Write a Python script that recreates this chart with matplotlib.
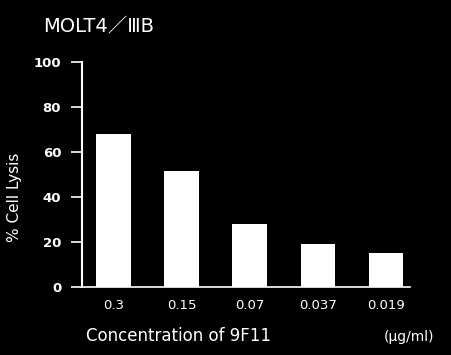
import numpy as np
import matplotlib
matplotlib.use("Agg")
from matplotlib import pyplot as plt

plt.rcParams['font.family'] = ['DejaVu Sans', 'Noto Sans CJK JP']

concentrations = ["0.3", "0.15", "0.07", "0.037", "0.019"]
lysis = [68, 51.5, 28, 19, 15]
yticks = [0, 20, 40, 60, 80, 100]

fig = plt.figure(figsize=(4.51, 3.55), dpi=100, facecolor="black")
ax = fig.add_axes([0.182, 0.192, 0.727, 0.634], facecolor="black")

x = np.arange(len(concentrations))
ax.bar(x, lysis, width=0.51, color="white")

ax.set_xlim(-0.46, 4.35)
ax.set_ylim(0, 100)
ax.set_yticks(yticks)
ax.set_yticklabels([str(v) for v in yticks], color="white", fontsize=9.5,
                   fontweight="bold")
ax.set_xticks(x)
ax.set_xticklabels(concentrations, color="white", fontsize=9.5)
ax.tick_params(axis="y", colors="white", length=8, width=1.2, pad=7)
ax.tick_params(axis="x", length=0, pad=9)
for s in ["top", "right"]:
    ax.spines[s].set_visible(False)
ax.spines["left"].set_color("white")
ax.spines["bottom"].set_color("white")
ax.spines["left"].set_linewidth(1.5)
ax.spines["bottom"].set_linewidth(1.2)

fig.text(0.032, 0.445, "% Cell Lysis", color="white", fontsize=11,
         rotation=90, ha="center", va="center")
fig.text(0.19, 0.04, "Concentration of 9F11", color="white", fontsize=12)
fig.text(0.85, 0.04, "(μg/ml)", color="white", fontsize=10)
fig.text(0.095, 0.91, "MOLT4／ⅢB", color="white", fontsize=14)

fig.savefig("out.png", dpi=100, facecolor="black")
